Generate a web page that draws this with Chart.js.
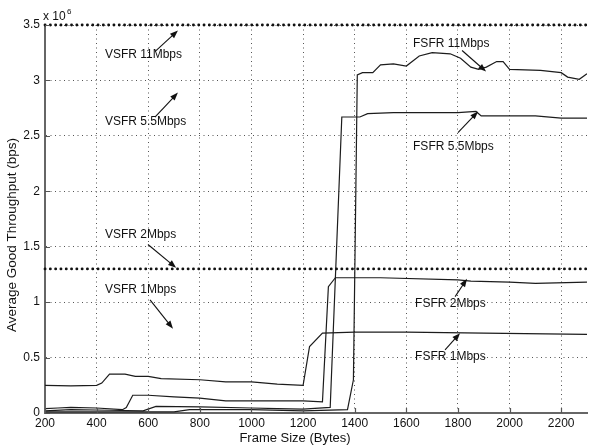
<!DOCTYPE html>
<html>
<head>
<meta charset="utf-8">
<script src="https://cdn.jsdelivr.net/npm/chart.js@4.4.1/dist/chart.umd.min.js"></script>
<style>
  body { margin: 0; background: #fff; }
  #wrap { width: 592px; height: 446px; }
</style>
</head>
<body>
<div id="wrap"><canvas id="myChart" width="592" height="446"></canvas></div>
<script>
// frame size (bytes) and throughput (x 10^6 bps)
const fsfr1X = [200, 300, 400, 420, 450, 510, 550, 600, 650, 800, 900, 1000, 1100, 1200, 1225, 1275, 1400, 1600, 1900, 2300];
const fsfr1Y = [0.25, 0.245, 0.25, 0.27, 0.35, 0.35, 0.33, 0.33, 0.31, 0.30, 0.28, 0.28, 0.26, 0.25, 0.60, 0.72, 0.73, 0.73, 0.72, 0.71];

const fsfr2X = [200, 250, 300, 400, 500, 515, 540, 600, 700, 800, 900, 1000, 1200, 1275, 1298, 1325, 1500, 1800, 1850, 2000, 2100, 2300];
const fsfr2Y = [0.04, 0.045, 0.05, 0.045, 0.03, 0.05, 0.16, 0.16, 0.145, 0.135, 0.11, 0.11, 0.11, 0.10, 1.14, 1.22, 1.22, 1.20, 1.19, 1.18, 1.17, 1.18];

const fsfr55X = [200, 300, 450, 580, 630, 800, 1000, 1100, 1200, 1305, 1350, 1420, 1450, 1550, 1800, 1870, 1890, 2100, 2200, 2300];
const fsfr55Y = [0.02, 0.03, 0.025, 0.02, 0.06, 0.055, 0.045, 0.04, 0.035, 0.05, 2.67, 2.67, 2.70, 2.71, 2.71, 2.72, 2.68, 2.68, 2.66, 2.66];

const fsfr11X = [200, 700, 760, 1000, 1200, 1372, 1395, 1410, 1430, 1470, 1500, 1550, 1600, 1650, 1700, 1770, 1810, 1850, 1880, 1910, 1950, 1975, 2000, 2120, 2200, 2225, 2270, 2300];
const fsfr11Y = [0.01, 0.01, 0.03, 0.03, 0.02, 0.03, 0.30, 3.05, 3.07, 3.07, 3.14, 3.15, 3.13, 3.22, 3.25, 3.24, 3.20, 3.12, 3.10, 3.12, 3.17, 3.17, 3.10, 3.09, 3.07, 3.03, 3.01, 3.06];

// VSFR levels (flat)
const vsfrHighY = 3.5;
const vsfrLowY = 1.3;

const xTicks = [200, 400, 600, 800, 1000, 1200, 1400, 1600, 1800, 2000, 2200];
const yTicks = [0, 0.5, 1, 1.5, 2, 2.5, 3, 3.5];

const xTitle = "Frame Size (Bytes)";
const yTitle = "Average Good Throughput (bps)";

// labels with arrows: text at (tx,ty), arrow from (ax0,ay0) to (ax1,ay1), in data units
const notes = [
    { text: "VSFR 11Mbps", tx: 432, ty: 3.23, ax0: 626, ay0: 3.26, ax1: 715, ay1: 3.45 },
    { text: "VSFR 5.5Mbps", tx: 432, ty: 2.63, ax0: 626, ay0: 2.67, ax1: 715, ay1: 2.89 },
    { text: "VSFR 2Mbps", tx: 432, ty: 1.61, ax0: 599, ay0: 1.52, ax1: 708, ay1: 1.31 },
    { text: "VSFR 1Mbps", tx: 432, ty: 1.11, ax0: 607, ay0: 1.02, ax1: 696, ay1: 0.76 },
    { text: "FSFR 11Mbps", tx: 1626, ty: 3.33, ax0: 1816, ay0: 3.27, ax1: 1909, ay1: 3.08 },
    { text: "FSFR 5.5Mbps", tx: 1626, ty: 2.40, ax0: 1800, ay0: 2.53, ax1: 1878, ay1: 2.72 },
    { text: "FSFR 2Mbps", tx: 1634, ty: 0.99, ax0: 1789, ay0: 1.05, ax1: 1835, ay1: 1.21 },
    { text: "FSFR 1Mbps", tx: 1634, ty: 0.51, ax0: 1750, ay0: 0.57, ax1: 1808, ay1: 0.72 },
];

const FONT = "'Liberation Sans', Arial, Helvetica, sans-serif";

function pairs(xs, ys) {
    return xs.map((x, i) => ({ x: x, y: ys[i] }));
}

function solid(label, xs, ys) {
    return {
        label: label,
        data: pairs(xs, ys),
        borderColor: "#1c1c1c",
        borderWidth: 1.2,
        pointRadius: 0,
        tension: 0,
    };
}

function dotted(label, y) {
    return {
        label: label,
        data: [{ x: 200, y: y }, { x: 2300, y: y }],
        borderColor: "#111",
        borderWidth: 2.8,
        borderCapStyle: "round",
        borderDash: [0.1, 5.2],
        pointRadius: 0,
        clip: false,
    };
}

const data = {
    datasets: [
        dotted("VSFR 11/5.5Mbps", vsfrHighY),
        dotted("VSFR 2/1Mbps", vsfrLowY),
        solid("FSFR 1Mbps", fsfr1X, fsfr1Y),
        solid("FSFR 2Mbps", fsfr2X, fsfr2Y),
        solid("FSFR 5.5Mbps", fsfr55X, fsfr55Y),
        solid("FSFR 11Mbps", fsfr11X, fsfr11Y),
    ],
};

// inward ticks, axis titles, "x 10^6", text labels and arrows
const extras = {
    id: "extras",
    afterDatasetsDraw(chart) {
        const { ctx, chartArea: area, scales: { x, y } } = chart;
        ctx.save();

        ctx.strokeStyle = "#555";
        ctx.lineWidth = 1.2;
        ctx.beginPath();
        xTicks.forEach((v) => {
            const px = Math.round(x.getPixelForValue(v)) + 0.5;
            ctx.moveTo(px, area.bottom);
            ctx.lineTo(px, area.bottom - 5);
        });
        yTicks.forEach((v) => {
            const py = Math.round(y.getPixelForValue(v)) + 0.5;
            ctx.moveTo(area.left, py);
            ctx.lineTo(area.left + 5, py);
        });
        ctx.stroke();

        ctx.fillStyle = "#111";
        ctx.textBaseline = "middle";

        // axis titles (sit a bit off the plot centre, as in the figure)
        ctx.font = "13px " + FONT;
        ctx.textAlign = "center";
        ctx.fillText(xTitle, area.left + 250, area.bottom + 25);
        ctx.save();
        ctx.translate(area.left - 33, area.top + 210);
        ctx.rotate(-Math.PI / 2);
        ctx.font = "13.5px " + FONT;
        ctx.fillText(yTitle, 0, 0);
        ctx.restore();

        ctx.textAlign = "left";
        ctx.font = "12px " + FONT;
        ctx.fillText("x 10", area.left - 2, area.top - 8);
        ctx.font = "8px " + FONT;
        ctx.fillText("6", area.left + 22, area.top - 13);

        ctx.font = "12px " + FONT;
        notes.forEach((n) => {
            ctx.fillStyle = "#111";
            ctx.fillText(n.text, x.getPixelForValue(n.tx), y.getPixelForValue(n.ty));

            const x0 = x.getPixelForValue(n.ax0), y0 = y.getPixelForValue(n.ay0);
            const x1 = x.getPixelForValue(n.ax1), y1 = y.getPixelForValue(n.ay1);
            const ang = Math.atan2(y1 - y0, x1 - x0);
            ctx.strokeStyle = "#111";
            ctx.lineWidth = 1.1;
            ctx.beginPath();
            ctx.moveTo(x0, y0);
            ctx.lineTo(x1 - 5 * Math.cos(ang), y1 - 5 * Math.sin(ang));
            ctx.stroke();
            ctx.beginPath();
            ctx.moveTo(x1, y1);
            ctx.lineTo(x1 - 8 * Math.cos(ang) + 3 * Math.sin(ang), y1 - 8 * Math.sin(ang) - 3 * Math.cos(ang));
            ctx.lineTo(x1 - 8 * Math.cos(ang) - 3 * Math.sin(ang), y1 - 8 * Math.sin(ang) + 3 * Math.cos(ang));
            ctx.closePath();
            ctx.fill();
        });
        ctx.restore();
    },
};

const config = {
    type: "line",
    data: data,
    options: {
        responsive: false,
        animation: false,
        layout: { padding: { top: 25, right: 5, left: 0, bottom: 0 } },
        plugins: {
            legend: { display: false },
            tooltip: { enabled: false },
            title: { display: false },
        },
        scales: {
            x: {
                type: "linear",
                min: 200,
                max: 2300,
                afterBuildTicks: (s) => { s.ticks = xTicks.map((v) => ({ value: v })); },
                afterFit: (s) => { s.height = 33; },
                ticks: {
                    color: "#111",
                    font: { family: FONT, size: 12 },
                    padding: 3,
                    maxRotation: 0,
                    callback: (v) => String(v),
                },
                grid: { color: "#555", lineWidth: 1, tickLength: 0 },
                border: { display: true, color: "#666", width: 2, dash: [1, 3.5] },
            },
            y: {
                min: 0,
                max: 3.5,
                afterBuildTicks: (s) => { s.ticks = yTicks.map((v) => ({ value: v })); },
                afterFit: (s) => { s.width = 45; },
                ticks: {
                    color: "#111",
                    font: { family: FONT, size: 12 },
                    padding: 5,
                    callback: (v) => String(v),
                },
                grid: { color: "#555", lineWidth: 1, tickLength: 0 },
                border: { display: true, color: "#666", width: 2, dash: [1, 3.5] },
            },
        },
    },
    plugins: [extras],
};

document.addEventListener("DOMContentLoaded", function () {
    const ctx = document.getElementById("myChart").getContext("2d");
    const myChart = new Chart(ctx, config);
});
</script>
</body>
</html>
